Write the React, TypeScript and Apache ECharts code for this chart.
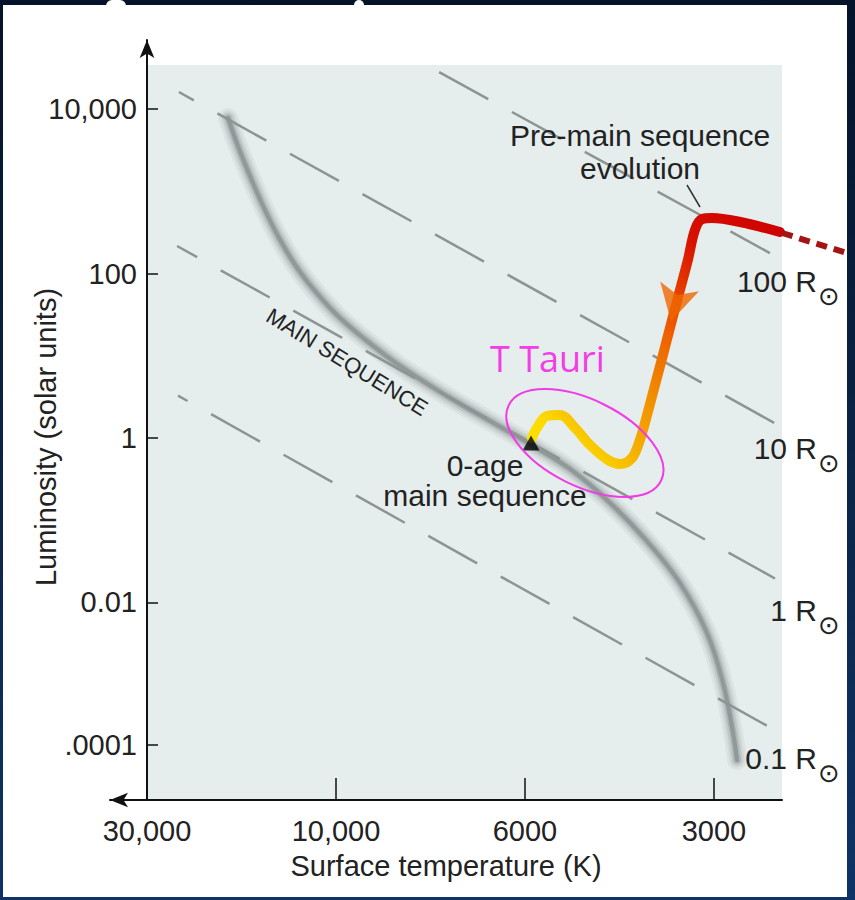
import React, { useEffect, useRef } from "react";
import * as echarts from "echarts";

// ---- Axis ticks (x: position on the schematic temperature scale, y: log10 luminosity) ----
const temperatureLabels = ["30,000", "10,000", "6000", "3000"];
const temperatureTickPositions = [0, 1, 2, 3];
const luminosityLabels = ["10,000", "100", "1", "0.01", ".0001"];
const luminosityTickPositions = [4, 2, 0, -2, -3.73];

// ---- Main sequence band ----
const mainSequence: number[][] = [
  [0.429, 3.893], [0.481, 3.552], [0.545, 3.187], [0.619, 2.798], [0.698, 2.436],
  [0.788, 2.092], [0.889, 1.788], [1.005, 1.496], [1.138, 1.229], [1.339, 0.876],
  [1.587, 0.511], [1.815, 0.207], [2.026, -0.073], [2.238, -0.377], [2.434, -0.754],
  [2.635, -1.229], [2.82, -1.764], [2.963, -2.372], [3.048, -2.981], [3.101, -3.589],
  [3.122, -3.917],
];

// ---- Pre-main-sequence evolutionary track ----
const preMainTrack: number[][] = [
  [3.349, 2.506], [3.138, 2.628], [2.989, 2.676], [2.937, 2.664], [2.899, 2.53],
  [2.862, 2.165], [2.82, 1.8], [2.778, 1.436], [2.73, 1.01], [2.688, 0.645],
  [2.646, 0.28], [2.608, -0.024], [2.566, -0.243], [2.503, -0.316], [2.439, -0.268],
  [2.344, -0.085], [2.265, 0.122], [2.185, 0.28], [2.116, 0.268], [2.063, 0.122],
  [2.037, 0.0],
];
const preMainDashed: number[][] = [[3.36, 2.494], [3.704, 2.251]];
const trackArrow: number[][] = [[2.772, 1.42]];
const zeroAgePoint: number[][] = [[2.032, -0.061]];
const tTauriCenter = [2.317, -0.061];

// ---- Constant-radius lines ----
const radiusNames = ["100", "10", "1", "0.1"];
const radiusLineStart: number[][] = [[1.476, 4.538], [0.169, 4.209], [0.159, 2.336], [0.164, 0.516]];
const radiusLineEnd: number[][] = [[3.296, 2.25], [3.323, 0.178], [3.323, -1.709], [3.339, -3.577]];
const radiusDashOffset = [68, 39, 33, 45];
const radiusLabelY = [281, 448, 610, 758];

const X_MIN = -0.1958;
const X_MAX = 3.36;
const Y_MIN = -4.404;
const Y_MAX = 4.842;
const PLOT_TOP = 4.538;

const FONT = "Liberation Sans, Arial, Helvetica, sans-serif";
const TEXT = "#222";

// soft, blurred look of the main-sequence band: stacked translucent strokes
const bandLayers = [
  { width: 20, alpha: 0.05 },
  { width: 15, alpha: 0.07 },
  { width: 11, alpha: 0.1 },
  { width: 7, alpha: 0.16 },
  { width: 4, alpha: 0.24 },
];

function nearestLabel(v: number, pos: number[], labels: string[]) {
  let best = 0;
  for (let i = 1; i < pos.length; i++) {
    if (Math.abs(pos[i] - v) < Math.abs(pos[best] - v)) best = i;
  }
  return labels[best];
}

export default function App() {
  const ref = useRef<HTMLDivElement>(null);

  useEffect(() => {
    const chart = echarts.init(ref.current!, undefined, { renderer: "svg" });

    const radiusSeries = radiusNames.map((name, i) => ({
      name: name + " R",
      type: "line",
      data: [radiusLineStart[i], radiusLineEnd[i]],
      symbol: "none",
      z: 2,
      silent: true,
      lineStyle: {
        color: "#8e9494",
        width: 2.5,
        type: [56, 27],
        dashOffset: radiusDashOffset[i],
        cap: "butt",
      },
    }));

    const bandSeries = bandLayers.map((l, i) => ({
      name: i === bandLayers.length - 1 ? "Main sequence" : "Main sequence glow " + i,
      type: "line",
      data: mainSequence,
      smooth: 0.4,
      symbol: "none",
      z: 1,
      silent: true,
      lineStyle: {
        width: l.width,
        color: `rgba(60,66,66,${l.alpha})`,
        cap: "round",
        join: "round",
      },
    }));

    const option: any = {
      animation: false,
      grid: {
        left: 110,
        right: 73,
        top: 40,
        bottom: 100,
        containLabel: false,
        outerBoundsMode: "none",
      },
      xAxis: {
        type: "value",
        min: X_MIN,
        max: X_MAX,
        position: "bottom",
        z: 5,
        axisLine: {
          show: true,
          onZero: false,
          symbol: ["arrow", "none"],
          symbolSize: [11, 18],
          lineStyle: { color: "#111", width: 2 },
        },
        axisTick: {
          show: true,
          inside: true,
          length: 22,
          customValues: [1, 2, 3],
          lineStyle: { color: "#111", width: 1.5 },
        },
        axisLabel: {
          customValues: temperatureTickPositions,
          formatter: (v: number) => nearestLabel(v, temperatureTickPositions, temperatureLabels),
          margin: 16,
          fontSize: 29,
          color: TEXT,
          fontFamily: FONT,
        },
        splitLine: { show: false },
        name: "Surface temperature (K)",
        nameLocation: "middle",
        nameGap: 51,
        nameMoveOverlap: false,
        nameTextStyle: { fontSize: 29, color: TEXT, fontFamily: FONT },
      },
      yAxis: {
        type: "value",
        min: Y_MIN,
        max: Y_MAX,
        z: 5,
        axisLine: {
          show: true,
          onZero: true,
          symbol: ["none", "arrow"],
          symbolSize: [11, 18],
          lineStyle: { color: "#111", width: 2 },
        },
        axisTick: {
          show: true,
          inside: true,
          length: 11,
          customValues: luminosityTickPositions,
          lineStyle: { color: "#111", width: 1.5 },
        },
        axisLabel: {
          customValues: luminosityTickPositions,
          formatter: (v: number) => nearestLabel(v, luminosityTickPositions, luminosityLabels),
          margin: -27,
          fontSize: 29,
          color: TEXT,
          fontFamily: FONT,
        },
        splitLine: { show: false },
        name: "Luminosity (solar units)",
        nameLocation: "middle",
        nameRotate: 90,
        nameGap: 50,
        nameMoveOverlap: false,
        nameTextStyle: { fontSize: 29, color: TEXT, fontFamily: FONT, padding: [0, 34, 0, 0] },
      },
      series: [
        {
          name: "plot background",
          type: "line",
          data: [],
          z: 0,
          silent: true,
          markArea: {
            silent: true,
            itemStyle: { color: "#e5eded" },
            data: [[{ coord: [0, PLOT_TOP] }, { coord: [X_MAX, Y_MIN] }]],
          },
        },
        ...bandSeries,
        ...radiusSeries,
        {
          name: "Pre-main sequence evolution",
          type: "line",
          data: preMainTrack,
          smooth: 0.35,
          symbol: "none",
          clip: false,
          z: 3,
          lineStyle: {
            width: 10,
            cap: "round",
            join: "round",
            color: new echarts.graphic.LinearGradient(1, 0, 0, 1, [
              { offset: 0, color: "#cc0000" },
              { offset: 0.22, color: "#d81000" },
              { offset: 0.42, color: "#ec5400" },
              { offset: 0.62, color: "#f28c00" },
              { offset: 0.78, color: "#f6b400" },
              { offset: 0.88, color: "#fcd800" },
              { offset: 1, color: "#ffe800" },
            ]),
          },
        },
        {
          name: "track arrow",
          type: "scatter",
          data: trackArrow,
          symbol: "arrow",
          symbolSize: [30, 36],
          symbolRotate: 166,
          z: 6,
          silent: true,
          itemStyle: { color: "#ef6800" },
        },
        {
          name: "0-age main sequence",
          type: "scatter",
          data: zeroAgePoint,
          symbol: "triangle",
          symbolSize: [17, 15],
          z: 7,
          silent: true,
          itemStyle: { color: "#000" },
        },
      ],
    };

    chart.setOption(option);

    const toPx = (p: number[]) => chart.convertToPixel({ gridIndex: 0 }, p) as number[];
    const [ex, ey] = toPx(tTauriCenter);
    const d0 = toPx(preMainDashed[0]);
    const d1 = toPx(preMainDashed[1]);

    const txt = (x: number, y: number, text: string, extra: any = {}) => ({
      type: "text",
      x,
      y,
      z: 100,
      silent: true,
      style: {
        text,
        fill: TEXT,
        font: `30px ${FONT}`,
        textAlign: "center",
        textVerticalAlign: "middle",
        ...extra,
      },
    });

    const graphics: any[] = [
      {
        type: "line",
        z: 50,
        silent: true,
        shape: { x1: d0[0], y1: d0[1], x2: d1[0], y2: d1[1] },
        style: { stroke: "#a41414", lineWidth: 6, lineDash: [11, 7] },
      },
      txt(640, 135, "Pre-main sequence"),
      txt(640, 168, "evolution"),
      {
        type: "line",
        z: 100,
        silent: true,
        shape: { x1: 687, y1: 185, x2: 700, y2: 207 },
        style: { stroke: "#333", lineWidth: 1.5 },
      },
      txt(485, 465, "0-age"),
      txt(485, 495, "main sequence"),
      {
        type: "text",
        x: 347,
        y: 362,
        rotation: -0.55,
        z: 100,
        silent: true,
        style: {
          text: "MAIN SEQUENCE",
          fill: TEXT,
          font: `22px ${FONT}`,
          textAlign: "center",
          textVerticalAlign: "middle",
        },
      },
      txt(490, 358, "T Tauri", {
        textAlign: "left",
        fill: "#f23ee6",
        font: `36px "Open Sans", "Noto Sans", sans-serif`,
      }),
      {
        type: "ellipse",
        x: ex,
        y: ey,
        rotation: -0.46,
        z: 100,
        silent: true,
        shape: { cx: 0, cy: 0, rx: 85, ry: 43 },
        style: { fill: "none", stroke: "#f03ce6", lineWidth: 2 },
      },
    ];

    radiusNames.forEach((name, i) => {
      graphics.push(txt(817, radiusLabelY[i], name + " R", { textAlign: "right" }));
      graphics.push(
        txt(829, radiusLabelY[i] + 15, "\u2299", {
          font: `26px "DejaVu Sans", sans-serif`,
        })
      );
    });

    chart.setOption({ graphic: graphics });

    return () => chart.dispose();
  }, []);

  return (
    <div
      style={{
        position: "fixed",
        left: 0,
        top: 0,
        width: 855,
        height: 900,
        overflow: "hidden",
        background: "linear-gradient(180deg, #04132a 0%, #0b2548 55%, #0f3366 100%)",
      }}
    >
      <div style={{ position: "absolute", left: 3, top: 5, width: 844, height: 892, background: "#fff" }} />
      <div style={{ position: "absolute", left: 106, top: 0, width: 20, height: 6, background: "#fff", borderRadius: "6px 6px 0 0" }} />
      <div style={{ position: "absolute", left: 354, top: 0, width: 10, height: 6, background: "#fff", borderRadius: "5px 5px 0 0" }} />
      <div ref={ref} style={{ position: "absolute", left: 0, top: 0, width: 855, height: 900 }} />
    </div>
  );
}
